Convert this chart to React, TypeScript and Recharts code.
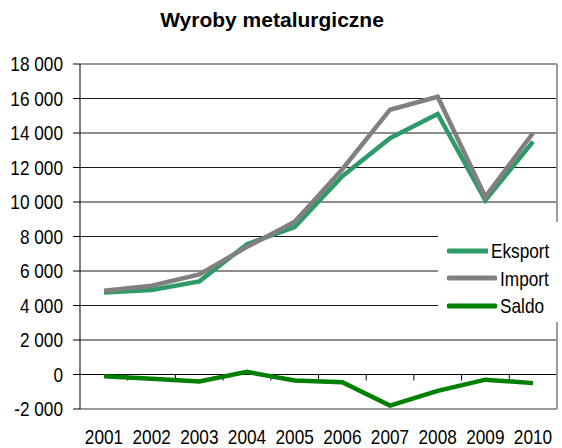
import React from "react";
import {
  LineChart,
  Line,
  CartesianGrid,
  XAxis,
  YAxis,
  Legend,
  ReferenceLine,
} from "recharts";

const years = ["2001", "2002", "2003", "2004", "2005", "2006", "2007", "2008", "2009", "2010"];
const eksport = [4750, 4900, 5400, 7550, 8550, 11500, 13700, 15100, 10100, 13500];
const importValues = [4850, 5150, 5800, 7400, 8850, 11900, 15350, 16100, 10300, 14000];
const saldo = [-100, -250, -400, 150, -350, -450, -1800, -950, -300, -500];
const yTicks = [-2000, 0, 2000, 4000, 6000, 8000, 10000, 12000, 14000, 16000, 18000];

const data = years.map((year, i) => ({
  year,
  Eksport: eksport[i],
  Import: importValues[i],
  Saldo: saldo[i],
}));

const FONT = "'Liberation Sans', Arial, sans-serif";
const NARROW = 0.82; // no Arial Narrow available, squeeze Liberation Sans instead

const formatThousands = (v: number) => {
  const sign = v < 0 ? "-" : "";
  const abs = Math.abs(v);
  if (abs < 1000) return sign + abs;
  const rest = String(abs % 1000).padStart(3, "0");
  return `${sign}${Math.floor(abs / 1000)} ${rest}`;
};

const XTick = (props: any) => {
  const { x, y, payload } = props;
  return (
    <g transform={`translate(${x},${y})`}>
      <text
        transform={`scale(${NARROW},1)`}
        textAnchor="middle"
        dy="0.71em"
        fontSize={21}
        fill="#000"
      >
        {payload.value}
      </text>
    </g>
  );
};

const YTick = (props: any) => {
  const { x, y, payload } = props;
  return (
    <g transform={`translate(${x},${y})`}>
      <text
        transform={`scale(${NARROW},1)`}
        textAnchor="end"
        dy="0.355em"
        fontSize={21}
        fill="#000"
      >
        {formatThousands(payload.value)}
      </text>
    </g>
  );
};

// x axis line at zero with tick marks between categories (Excel style)
const ZeroAxis = (props: any) => {
  const { x1, y1, x2 } = props;
  const step = (x2 - x1) / years.length;
  return (
    <g>
      <line x1={x1} y1={y1} x2={x2} y2={y1} stroke="#000" strokeWidth={1} />
      {years.map((_, i) => (
        <line
          key={i}
          x1={x1 + step * (i + 1)}
          x2={x1 + step * (i + 1)}
          y1={y1}
          y2={y1 + 6}
          stroke="#000"
        />
      ))}
    </g>
  );
};

const renderLegend = (props: any) => {
  const { payload } = props;
  return (
    <div style={{ paddingTop: 15, paddingLeft: 9 }}>
      {(payload || []).map((entry: any) => (
        <div
          key={entry.value}
          style={{ display: "flex", alignItems: "center", height: 27.5 }}
        >
          <svg width={50} height={8} style={{ display: "block" }}>
            <line
              x1={2}
              x2={48}
              y1={4}
              y2={4}
              stroke={entry.color}
              strokeWidth={5}
              strokeLinecap="round"
            />
          </svg>
          <span
            style={{
              marginLeft: 3,
              fontSize: 21,
              color: "#000",
              lineHeight: "21px",
              display: "inline-block",
              transform: `scaleX(${NARROW})`,
              transformOrigin: "left center",
            }}
          >
            {entry.value}
          </span>
        </div>
      ))}
    </div>
  );
};

const App = () => {
  return (
    <div
      style={{
        position: "absolute",
        left: 0,
        top: 0,
        width: 562,
        height: 448,
        fontFamily: FONT,
        background: "#fff",
      }}
    >
      <div
        style={{
          position: "absolute",
          top: 10,
          left: 0,
          width: 544,
          textAlign: "center",
          fontSize: 21,
          lineHeight: "20px",
          fontWeight: "bold",
          color: "#000",
          zIndex: 2,
        }}
      >
        Wyroby metalurgiczne
      </div>
      <LineChart
        width={562}
        height={448}
        data={data}
        margin={{ top: 64, right: 0, bottom: 0, left: 0 }}
      >
        <CartesianGrid vertical={false} stroke="#1a1a1a" />
        <XAxis
          dataKey="year"
          height={39}
          padding={{ left: 24, right: 24 }}
          axisLine={{ stroke: "#9a9a9a", strokeWidth: 2 }}
          tickLine={false}
          tickSize={0}
          tickMargin={20}
          interval={0}
          tick={<XTick />}
        />
        <YAxis
          width={80}
          domain={[-2000, 18000]}
          ticks={yTicks}
          interval={0}
          tickSize={7}
          tickMargin={10}
          axisLine={{ stroke: "#000" }}
          tickLine={{ stroke: "#000" }}
          tick={<YTick />}
        />
        <YAxis
          yAxisId="right"
          orientation="right"
          width={5}
          domain={[-2000, 18000]}
          tick={false}
          tickLine={false}
          axisLine={{ stroke: "#9a9a9a", strokeWidth: 2 }}
        />
        <ReferenceLine y={18000} stroke="#9a9a9a" strokeWidth={2} />
        <ReferenceLine y={0} shape={ZeroAxis} />
        <Line
          dataKey="Eksport"
          stroke="#2e9a68"
          strokeWidth={4.5}
          dot={false}
          type="linear"
          isAnimationActive={false}
        />
        <Line
          dataKey="Import"
          stroke="#808080"
          strokeWidth={4.5}
          dot={false}
          type="linear"
          isAnimationActive={false}
        />
        <Line
          dataKey="Saldo"
          stroke="#008000"
          strokeWidth={4.5}
          dot={false}
          type="linear"
          isAnimationActive={false}
        />
        <Legend
          layout="vertical"
          align="center"
          verticalAlign="middle"
          content={renderLegend}
          wrapperStyle={{
            left: 438,
            top: 222,
            width: 124,
            height: 100,
            background: "#fff",
          }}
        />
      </LineChart>
    </div>
  );
};

export default App;
